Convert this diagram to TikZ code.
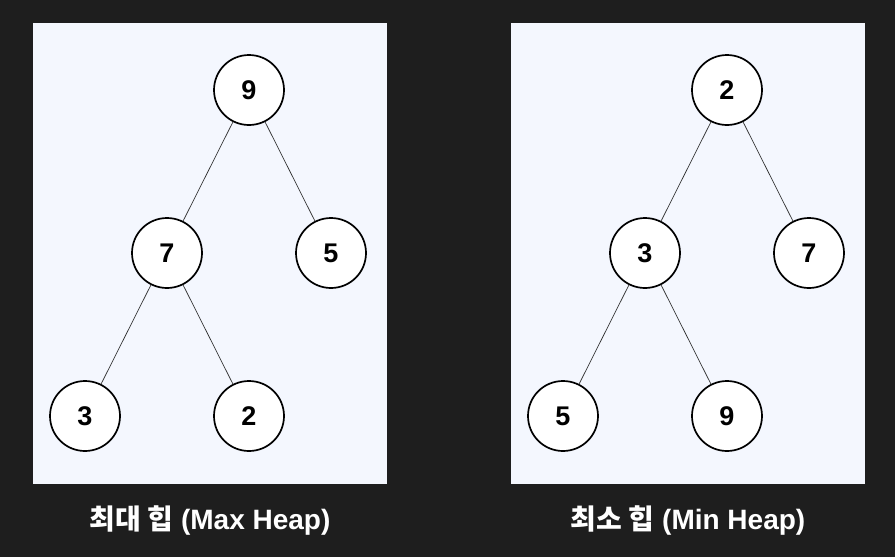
\documentclass[tikz,border=0pt]{standalone}
\usepackage{fontspec}
\setmainfont{Liberation Sans}
\newfontfamily\krfont{Noto Sans CJK KR}
\usepackage{tikz}
\usetikzlibrary{positioning}
\usepackage{xcolor}
\definecolor{bgdark}{HTML}{1E1E1E}
\definecolor{panel}{HTML}{F4F7FE}

\begin{document}
\begin{tikzpicture}[x=1pt,y=-1pt,
  heapnode/.style={draw,circle,line width=1.7pt,fill=white,minimum size=70pt,inner sep=0pt,font=\fontsize{27}{27}\selectfont\bfseries},
  heapedge/.style={line width=0.7pt,draw=black!80},
  caption/.style={text=white,font=\fontsize{28}{28}\selectfont\bfseries}]
\fill [bgdark] (0,0) rectangle (895,557);
\useasboundingbox (0,0) rectangle (895,557);
\fill [panel] (33,23) rectangle (387,484);
\fill [panel] (511,23) rectangle (865,484);
\path
  (249,90) node [heapnode] (m9) {9}
  +(-82,163) node [heapnode] (m7) {7}
  +(82,163) node [heapnode] (m5) {5}
  +(-164,326) node [heapnode] (m3) {3}
  +(0,326) node [heapnode] (m2) {2};
\path
  (727,90) node [heapnode] (n2) {2}
  +(-82,163) node [heapnode] (n3) {3}
  +(82,163) node [heapnode] (n7) {7}
  +(-164,326) node [heapnode] (n5) {5}
  +(0,326) node [heapnode] (n9) {9};
\draw [heapedge] (m9) -- (m7);
\draw [heapedge] (m9) -- (m5);
\draw [heapedge] (m7) -- (m3);
\draw [heapedge] (m7) -- (m2);
\draw [heapedge] (n2) -- (n3);
\draw [heapedge] (n2) -- (n7);
\draw [heapedge] (n3) -- (n5);
\draw [heapedge] (n3) -- (n9);
\node [caption] (maxcap) at (210,521) {{\krfont 최대 힙} (Max Heap)};
\node [caption] (mincap) at (688,521) {{\krfont 최소 힙} (Min Heap)};
\end{tikzpicture}
\end{document}
